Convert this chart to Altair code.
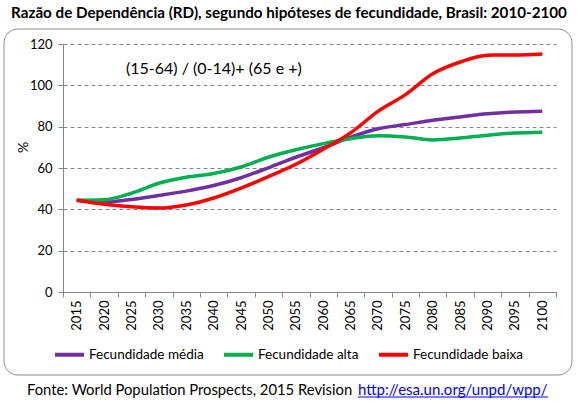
import altair as alt
import pandas as pd

# Dependency ratio projections for Brazil (%), by fertility hypothesis
years = list(range(2015, 2101, 5))
media = [44.4, 43.5, 44.8, 46.7, 48.8, 51.5, 55.3, 60.1, 65.2, 69.8,
         74.9, 79.0, 81.0, 83.1, 84.7, 86.2, 87.1, 87.5]
alta = [44.4, 44.6, 47.8, 52.6, 55.5, 57.3, 60.5, 65.2, 68.8, 71.8,
        74.2, 75.6, 75.0, 73.6, 74.5, 75.9, 76.9, 77.3]
baixa = [44.4, 42.5, 41.2, 40.6, 42.1, 45.5, 50.3, 55.8, 61.8, 69.1,
         77.0, 87.4, 95.5, 105.6, 111.3, 114.6, 114.7, 115.2]

series_names = ["Fecundidade média", "Fecundidade alta", "Fecundidade baixa"]
series_colors = ["#7030A0", "#00B050", "#FF0000"]
y_ticks = [0, 20, 40, 60, 80, 100, 120]

title_text = "Razão de Dependência (RD), segundo hipóteses de fecundidade, Brasil: 2010-2100"
formula_text = "(15-64) / (0-14)+ (65 e +)"
source_text = "Fonte: World Population  Prospects,  2015 Revision"
link_text = "http://esa.un.org/unpd/wpp/"

rows = []
for name, vals in zip(series_names, [media, alta, baixa]):
    for yr, v in zip(years, vals):
        rows.append({"ano": str(yr), "valor": v, "serie": name})
df = pd.DataFrame(rows)

FONT = "Lato"
W, H = 493, 248

lines = alt.Chart(df).mark_line(strokeWidth=3.5, interpolate="monotone").encode(
    x=alt.X(
        "ano:O",
        bandPosition=0.5,
        scale=alt.Scale(type="band", paddingInner=0, paddingOuter=0),
        axis=alt.Axis(
            title=None, labelAngle=270, tickBand="extent", ticks=True, tickSize=5,
            domainColor="#868686", tickColor="#868686", labelFontSize=13,
            labelPadding=3, labelColor="#000000", grid=False,
        ),
    ),
    y=alt.Y(
        "valor:Q",
        scale=alt.Scale(domain=[0, 120], nice=False),
        axis=alt.Axis(
            values=y_ticks, title="%", titleAngle=270, titleX=-40, titleY=103,
            titleAlign="center", titleBaseline="middle", titleFontSize=14,
            titleFontWeight="normal", titleColor="#000000",
            grid=True, gridDash=[4, 3], gridColor="#868686", gridWidth=1,
            domainColor="#868686", tickColor="#868686", tickSize=5,
            labelFontSize=13, labelPadding=6, labelColor="#000000",
        ),
    ),
    color=alt.Color(
        "serie:N",
        sort=series_names,
        scale=alt.Scale(domain=series_names, range=series_colors),
        legend=alt.Legend(
            title=None, orient="none", direction="horizontal",
            legendX=-10, legendY=294, symbolType="stroke", symbolSize=841,
            symbolStrokeWidth=4, labelFontSize=13.5, labelOffset=3,
            columnPadding=12, labelColor="#000000",
        ),
    ),
)

# rounded frame around the chart body
frame = alt.Chart().mark_rect(
    fill=None, stroke="#8c8c8c", strokeWidth=1, cornerRadius=14
).encode(
    x=alt.value(-59), x2=alt.value(509), y=alt.value(-15), y2=alt.value(331)
)

title = alt.Chart().mark_text(
    text=title_text, font=FONT, fontSize=15.2, fontWeight="bold",
    align="center", baseline="middle", color="#000000",
).encode(x=alt.value(226), y=alt.value(-31))

formula = alt.Chart().mark_text(
    text=formula_text, font=FONT, fontSize=16, align="left",
    baseline="middle", color="#000000",
).encode(x=alt.value(63), y=alt.value(25))

source = alt.Chart().mark_text(
    text=source_text, font=FONT, fontSize=14.8, align="left",
    baseline="alphabetic", color="#000000",
).encode(x=alt.value(-36), y=alt.value(351))

link = alt.Chart().mark_text(
    text=link_text, font=FONT, fontSize=15, align="left",
    baseline="alphabetic", color="#0000FF",
).encode(x=alt.value(295), y=alt.value(351))

underline = alt.Chart().mark_rule(color="#0000FF", strokeWidth=1).encode(
    x=alt.value(295), x2=alt.value(485), y=alt.value(353)
)

chart = alt.layer(frame, lines, title, formula, source, link, underline).properties(
    width=W, height=H,
    autosize=alt.AutoSizeParams(type="none"),
    padding={"left": 63, "top": 44, "right": 22, "bottom": 112},
    background="#ffffff",
).configure(
    font=FONT,
).configure_view(stroke=None).configure_axis(labelFont=FONT, titleFont=FONT)

chart.save("out.html", embed_options={"renderer": "svg", "actions": False})
